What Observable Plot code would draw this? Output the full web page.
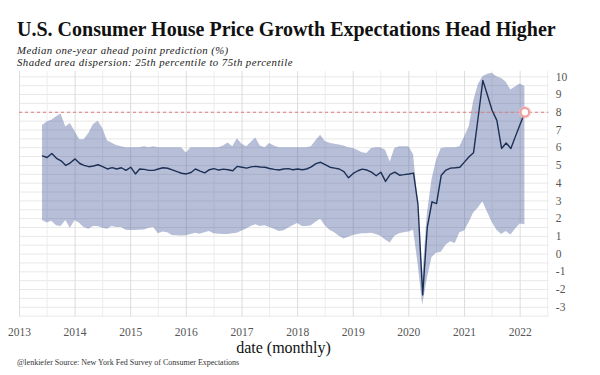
<!DOCTYPE html>
<html>
<head>
<meta charset="utf-8">
<script src="https://cdn.jsdelivr.net/npm/d3@7"></script>
<script src="https://cdn.jsdelivr.net/npm/@observablehq/plot@0.6"></script>
<style>
  body { margin:0; width:600px; height:375px; position:relative; background:#fff; overflow:hidden; font-family:"Liberation Serif", serif; }
  #title { position:absolute; left:17px; top:19px; font-size:20px; font-weight:bold; line-height:20px; color:#111; white-space:nowrap; }
  .sub { position:absolute; left:17px; font-size:10.8px; letter-spacing:0.43px; font-style:italic; line-height:10.8px; color:#222; white-space:nowrap; }
  #sub1 { top:45.2px; }
  #sub2 { top:57.3px; }
  #chart { position:absolute; left:0; top:62px; }
  #xlabel { position:absolute; left:0; width:567px; text-align:center; top:340px; font-size:16px; line-height:16px; color:#111; }
  #source { position:absolute; left:17px; top:359px; font-size:8px; line-height:8px; color:#333; white-space:nowrap; }
</style>
</head>
<body>
<div id="title">U.S. Consumer House Price Growth Expectations Head Higher</div>
<div class="sub" id="sub1">Median one-year ahead point prediction (%)</div>
<div class="sub" id="sub2">Shaded area dispersion: 25th percentile to 75th percentile</div>
<div id="chart"></div>
<div id="xlabel">date (monthly)</div>
<div id="source">@lenkiefer Source: New York Fed Survey of Consumer Expectations</div>
<script>
// Monthly series: June 2013 through February 2022
const firstMonth = [2013, 5];   // year, month index (June)
const lastMonth = [2022, 1];    // February 2022

const median = [
  5.54, 5.45, 5.67, 5.40, 5.26, 5.00, 5.15, 5.37, 5.11, 5.00,
  4.93, 4.97, 5.04, 4.93, 4.80, 4.88, 4.80, 4.87, 4.72, 4.90,
  4.52, 4.80, 4.78, 4.72, 4.72, 4.80, 4.87, 4.84, 4.75, 4.65,
  4.56, 4.52, 4.60, 4.80, 4.68, 4.58, 4.76, 4.82, 4.74, 4.79,
  4.76, 4.70, 4.95, 4.90, 4.85, 4.92, 4.95, 4.91, 4.90, 4.83,
  4.78, 4.74, 4.80, 4.82, 4.76, 4.80, 4.76, 4.80, 4.92, 5.10,
  5.18, 5.05, 4.90, 4.85, 4.80, 4.65, 4.30, 4.55, 4.70, 4.79,
  4.74, 4.62, 4.42, 4.62, 4.10, 4.50, 4.62, 4.45, 4.48, 4.52,
  4.57, 2.80, -2.30, 1.50, 2.95, 2.85, 4.45, 4.74, 4.85, 4.87,
  4.90, 5.20, 5.50, 5.72, 7.76, 9.80, 8.95, 8.10, 7.54, 5.96,
  6.27, 5.96, 6.64, 7.32, 8.00
];
const p75 = [
  7.26, 7.45, 7.55, 7.75, 7.90, 7.17, 7.36, 6.90, 6.45, 6.45,
  6.80, 7.30, 7.50, 7.10, 6.40, 6.25, 6.12, 6.05, 6.00, 6.00,
  6.00, 6.00, 6.05, 6.00, 6.05, 6.00, 6.00, 6.00, 6.00, 6.00,
  6.00, 5.70, 6.00, 6.00, 6.00, 6.00, 6.00, 6.00, 6.00, 6.10,
  6.27, 6.05, 6.50, 6.20, 6.05, 6.30, 6.55, 6.10, 6.00, 6.24,
  6.10, 6.00, 6.00, 6.00, 6.00, 6.00, 6.00, 6.00, 6.05, 6.40,
  6.70, 6.35, 6.25, 6.20, 6.15, 6.10, 6.00, 5.96, 5.85, 5.72,
  5.67, 5.96, 6.00, 6.00, 5.86, 5.20, 5.96, 6.05, 6.05, 6.05,
  5.60, 3.00, -1.30, 2.20, 4.20, 5.30, 5.95, 6.00, 6.00, 6.00,
  6.05, 6.60, 7.20, 8.60, 9.55, 10.00, 10.15, 10.20, 10.00, 9.90,
  9.70, 9.25, 9.42, 9.60, 9.45
];
const p25 = [
  1.90, 1.75, 1.85, 1.60, 1.55, 1.90, 1.45, 1.90, 1.72, 1.50,
  1.40, 1.55, 1.55, 1.45, 1.40, 1.55, 1.50, 1.50, 1.35, 1.33,
  1.33, 1.35, 1.36, 1.45, 1.50, 1.15, 1.25, 1.20, 1.05, 1.03,
  1.02, 1.03, 1.10, 1.18, 1.12, 1.20, 1.27, 1.15, 1.12, 1.10,
  1.10, 1.15, 1.18, 1.30, 1.42, 1.55, 1.65, 1.55, 1.60, 1.50,
  1.40, 1.28, 1.30, 1.45, 1.60, 1.72, 1.55, 1.55, 1.60, 1.80,
  1.97, 1.60, 1.35, 1.20, 1.00, 0.85, 0.95, 1.05, 1.10, 1.15,
  1.15, 1.18, 1.10, 1.00, 0.80, 0.62, 1.00, 1.15, 1.20, 1.25,
  1.35, -0.50, -2.90, -1.40, -0.20, 0.05, 0.10, 0.50, 0.70, 0.60,
  1.20, 1.30, 1.80, 2.30, 2.60, 2.95, 2.35, 1.80, 1.35, 1.10,
  1.27, 1.08, 1.40, 1.70, 1.65
];

const yTicks = [-3, -2, -1, 0, 1, 2, 3, 4, 5, 6, 7, 8, 9, 10];
const yearTicks = [2013, 2014, 2015, 2016, 2017, 2018, 2019, 2020, 2021, 2022];
const referenceLevel = 8;

const dates = d3.utcMonth.range(
  new Date(Date.UTC(firstMonth[0], firstMonth[1], 1)),
  d3.utcMonth.offset(new Date(Date.UTC(lastMonth[0], lastMonth[1], 1)), 1)
);
const data = dates.map((date, i) => ({date, median: median[i], p25: p25[i], p75: p75[i]}));
const last = data[data.length - 1];

const yearDates = yearTicks.map(y => new Date(Date.UTC(y, 0, 1)));
const xDomain = [new Date(Date.UTC(2013, 0, 1)), new Date(Date.UTC(2022, 6, 8))];
const halfYearDates = d3.utcMonth.every(6).range(xDomain[0], xDomain[1]).filter(d => d.getUTCMonth() === 6);
const halfSteps = d3.range(-3.5, 10.01, 0.5);

const chart = Plot.plot({
  width: 600,
  height: 280,
  marginLeft: 19,
  marginRight: 51.7,
  marginTop: 9,
  marginBottom: 25.5,
  style: {fontFamily: "'Liberation Serif', serif", fontSize: "11.5px", color: "#555", background: "transparent"},
  x: {type: "utc", domain: xDomain, ticks: yearDates, tickFormat: "%Y", tickSize: 0, tickPadding: 11, label: null},
  y: {domain: [-3.55, 10.3], axis: "right", ticks: yTicks, tickSize: 0, tickPadding: 7, tickFormat: d => String(d), label: null},
  marks: [
    Plot.ruleY(halfSteps, {stroke: "#e8e8e8", strokeWidth: 1}),
    Plot.ruleX(halfYearDates, {stroke: "#ececec", strokeWidth: 1}),
    Plot.ruleX(yearDates, {stroke: "#dcdcdc", strokeWidth: 1}),
    Plot.areaY(data, {x: "date", y1: "p25", y2: "p75", fill: "#4a5e9e", fillOpacity: 0.4}),
    Plot.ruleY([referenceLevel], {stroke: "#e07b7b", strokeWidth: 1, strokeDasharray: "3,3"}),
    Plot.lineY(data, {x: "date", y: "median", stroke: "#1c2f55", strokeWidth: 1.4}),
    Plot.dot([last], {x: "date", y: "median", r: 6.5, fill: "#f6c4c4", fillOpacity: 0.5}),
    Plot.dot([last], {x: "date", y: "median", r: 4.2, fill: "white", stroke: "#ee9f9f", strokeWidth: 2})
  ]
});
document.getElementById("chart").appendChild(chart);
</script>
</body>
</html>
